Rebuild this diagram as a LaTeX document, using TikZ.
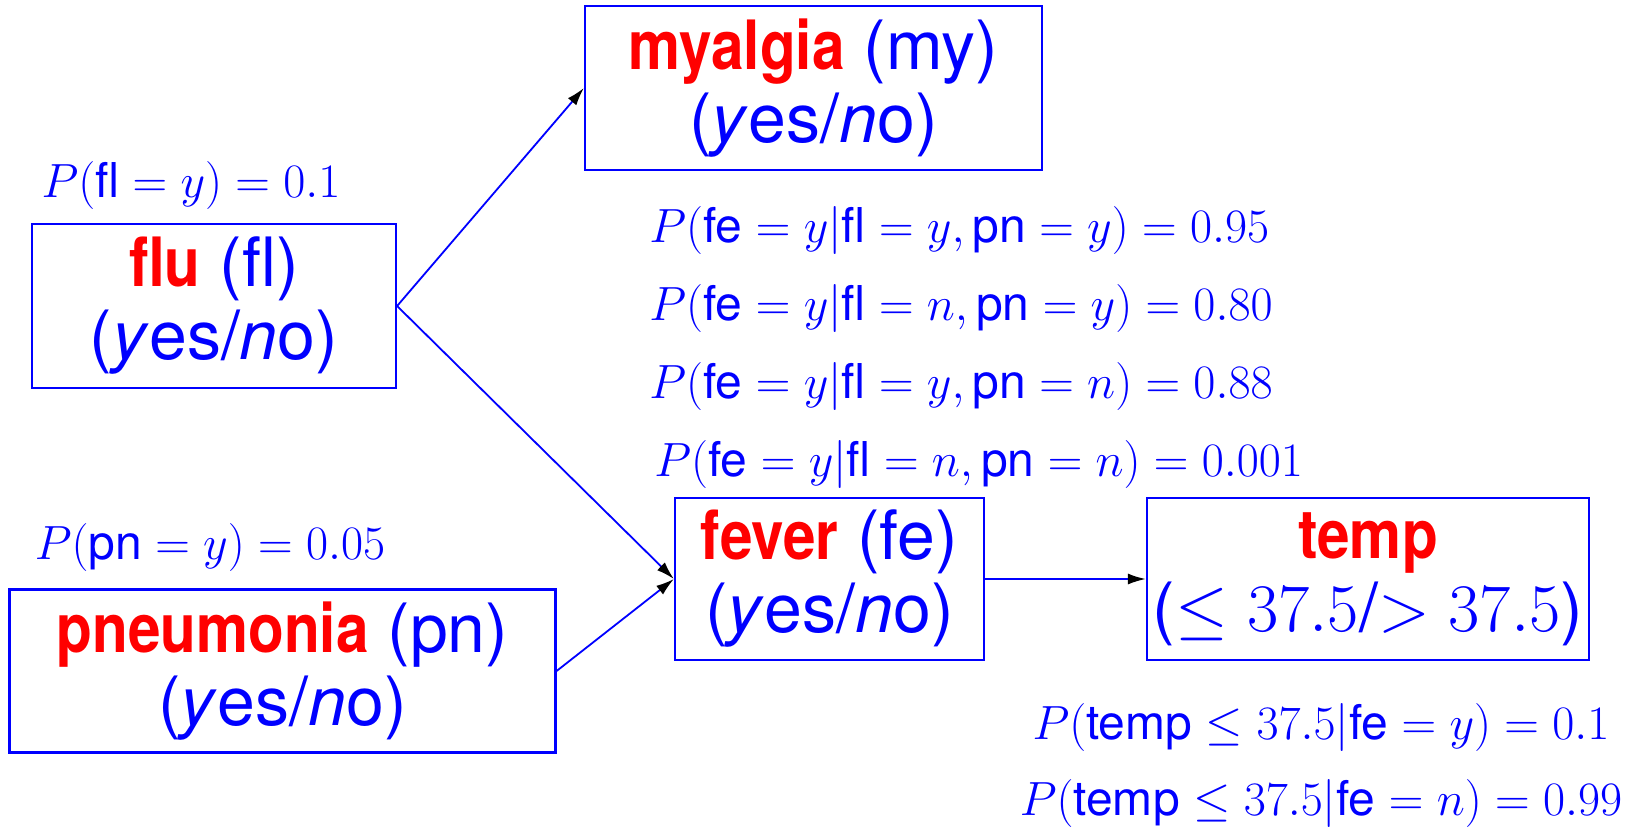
\RequirePackage{fix-cm}
\documentclass[tikz,border=0pt]{standalone}
\usepackage{amsmath,amssymb}
\usepackage{graphicx}
\usepackage{fontspec}
\setsansfont{TeX Gyre Heros}
\usetikzlibrary{arrows.meta,positioning}
\definecolor{netblue}{RGB}{0,0,255}
\definecolor{netred}{RGB}{255,0,0}
\newcommand{\ynval}{(\textit{y}es/\textit{n}o)}
\newcommand{\vname}[1]{\scalebox{0.86}[1]{\textbf{\color{netred}#1}}}

\begin{document}
\begin{tikzpicture}[x=0.5pt,y=-0.5pt,line cap=round,
 varbox/.style={draw=netblue,line width=1.1pt,text=netblue,align=center,inner sep=0pt,
  font=\sffamily\fontsize{34}{36.5}\selectfont},
 cptlbl/.style={text=netblue,inner sep=0pt,font=\fontsize{24}{27}\selectfont},
 link/.style={netblue,line width=0.9pt,-{Latex[length=9pt,width=5.5pt,color=black]}}]
\useasboundingbox (0,0) rectangle (1628,827);
% variables
\node[varbox,minimum width=228.5pt,minimum height=82pt] (my) at (813.5,88)
 {\vname{myalgia} (my)\\ \ynval};
\node[varbox,minimum width=182pt,minimum height=82pt] (fl) at (214,306)
 {\vname{flu} (fl)\\ \ynval};
\node[varbox,minimum width=273pt,minimum height=81.5pt] (pn) at (282.5,671)
 {\vname{pneumonia} (pn)\\ \ynval};
\node[varbox,minimum width=154.5pt,minimum height=81pt] (fe) at (829.5,579)
 {\vname{fever} (fe)\\ \ynval};
\node[varbox,minimum width=221pt,minimum height=81pt] (tp) at (1368,579)
 {\vname{temp}\\ ($\leq 37.5$/$> 37.5$)};
% probabilities
\node[cptlbl] (pfl) at (191,185) {$P(\textsf{fl}=y)=0.1$};
\node[cptlbl] (ppn) at (210,547) {$P(\textsf{pn}=y)=0.05$};
\node[cptlbl,anchor=west] (pfe1) at (649,230)
 {$P(\textsf{fe}=y|\textsf{fl}=y,\textsf{pn}=y)=0.95$};
\node[cptlbl,anchor=west] (pfe2) at (649,308)
 {$P(\textsf{fe}=y|\textsf{fl}=n,\textsf{pn}=y)=0.80$};
\node[cptlbl,anchor=west] (pfe3) at (649,386)
 {$P(\textsf{fe}=y|\textsf{fl}=y,\textsf{pn}=n)=0.88$};
\node[cptlbl,anchor=west] (pfe4) at (654,464)
 {$P(\textsf{fe}=y|\textsf{fl}=n,\textsf{pn}=n)=0.001$};
\node[cptlbl] (ptp1) at (1321,727) {$P(\textsf{temp}\leq 37.5|\textsf{fe}=y)=0.1$};
\node[cptlbl] (ptp2) at (1321,803) {$P(\textsf{temp}\leq 37.5|\textsf{fe}=n)=0.99$};
% links
\draw[link] (fl.east) -- (my.west);
\draw[link] (fl.east) -- (fe.west);
\draw[link] (pn.east) -- (fe.west);
\draw[link] (fe.east) -- (tp.west);
\end{tikzpicture}
\end{document}
